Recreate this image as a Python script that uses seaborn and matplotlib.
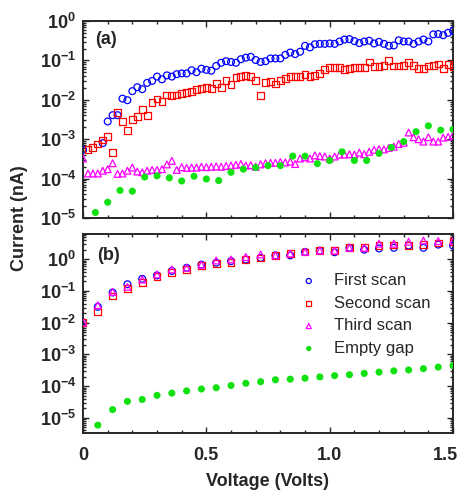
import numpy as np
import pandas as pd
import seaborn as sns
import matplotlib.pyplot as plt
from matplotlib.ticker import FixedLocator, LogLocator, MultipleLocator, NullFormatter
from matplotlib.transforms import ScaledTranslation

# --- data (log10 of current in nA) ---
# panel (a): dense sweep, 0.02 V steps
v_scan_a = np.round(np.arange(76) * 0.02, 2)
first_a = [-3.27, np.nan, np.nan, np.nan, -3.10, -2.55, -2.39, -2.39, -1.97, -2.01,
           -1.78, -1.68, -1.73, -1.57, -1.52, -1.41, -1.48, -1.38, -1.41, -1.35,
           -1.33, -1.33, -1.25, -1.30, -1.21, -1.24, -1.26, -1.14, -1.06, -1.02,
           -1.04, -1.06, -0.97, -0.93, -0.91, -0.99, -1.04, -1.02, -0.95, -0.95,
           -0.95, -0.86, -0.80, -0.84, -0.78, -0.63, -0.67, -0.59, -0.58, -0.58,
           -0.57, -0.58, -0.52, -0.47, -0.46, -0.51, -0.56, -0.52, -0.50, -0.57,
           -0.53, -0.58, -0.63, -0.62, -0.49, -0.52, -0.52, -0.58, -0.52, -0.47,
           -0.52, -0.34, -0.33, -0.36, -0.30, -0.25]
second_a = [np.nan, -3.27, -3.21, -3.12, -3.02, -2.94, -3.33, -2.33, -2.55, -2.77,
            -2.50, -2.43, -2.24, -2.40, -2.06, -1.98, -2.05, -1.88, -1.90, -1.88,
            -1.85, -1.81, -1.79, -1.74, -1.72, -1.68, -1.72, -1.58, -1.68, -1.52,
            -1.61, -1.44, -1.41, -1.38, -1.41, -1.50, -1.90, -1.56, -1.54, -1.60,
            -1.51, -1.46, -1.40, -1.40, -1.40, -1.35, -1.41, -1.38, -1.34, -1.23,
            -1.18, -1.18, -1.18, -1.24, -1.21, -1.18, -1.19, -1.19, -1.04, -1.16,
            -1.16, -1.12, -1.00, -1.14, -1.14, -1.12, -1.05, -1.13, -1.20, -1.20,
            -1.14, -1.13, -1.09, -1.21, -1.11, -1.15]
third_a = [-3.49, -3.87, -3.87, -3.87, -3.80, -3.76, -3.61, -3.88, -3.87, -3.80,
           -3.72, -3.82, -3.84, -3.80, -3.78, -3.78, -3.76, -3.64, -3.55, -3.78,
           -3.71, -3.73, -3.72, -3.72, -3.70, -3.71, -3.70, -3.69, -3.70, -3.68,
           -3.67, -3.65, -3.63, -3.67, -3.66, -3.70, -3.64, -3.61, -3.60, -3.60,
           -3.58, -3.59, -3.57, -3.63, -3.49, -3.46, -3.49, -3.41, -3.43, -3.44,
           -3.49, -3.44, -3.39, -3.39, -3.38, -3.39, -3.34, -3.38, -3.32, -3.27,
           -3.25, -3.26, -3.22, -3.19, -3.12, -3.09, -2.83, -2.95, -3.00, -3.06,
           -2.95, -3.06, -3.06, -2.96, -2.94, -2.90]
# empty gap, 0.05 V steps
v_gap_a = np.round(np.arange(1, 31) * 0.05, 2)
gap_a = [-4.86, -4.60, -4.30, -4.32, -3.96, -3.93, -3.98, -4.06, -3.94, -4.01,
         -4.05, -3.84, -3.76, -3.72, -3.67, -3.67, -3.43, -3.43, -3.62, -3.54,
         -3.32, -3.54, -3.54, -3.36, -3.21, -3.06, -2.81, -2.66, -2.77, -2.75]

# panel (b): 0.06 V steps
v_scan_b = np.round(np.arange(26) * 0.06, 2)
first_b = [-1.99, -1.50, -1.05, -0.79, -0.62, -0.51, -0.37, -0.27, -0.17, -0.11,
           -0.06, -0.01, 0.04, 0.12, 0.12, 0.23, 0.27, 0.22, 0.36, 0.30,
           0.34, 0.36, 0.43, 0.36, 0.46, 0.43]
second_b = [-1.99, -1.66, -1.16, -0.93, -0.74, -0.55, -0.43, -0.32, -0.19, -0.13,
            -0.11, -0.01, 0.04, 0.12, 0.18, 0.23, 0.27, 0.27, 0.36, 0.36,
            0.43, 0.45, 0.43, 0.46, 0.51, 0.55]
third_b = [-1.99, -1.45, -1.03, -0.87, -0.64, -0.48, -0.32, -0.27, -0.17, -0.04,
           -0.01, 0.07, 0.15, 0.12, 0.18, 0.23, 0.27, 0.27, 0.36, 0.36,
           0.49, 0.49, 0.55, 0.59, 0.57, 0.57]
v_gap_b = np.round(np.arange(1, 26) * 0.06, 2)
gap_b = [-5.23, -4.74, -4.48, -4.42, -4.29, -4.22, -4.15, -4.09, -4.05, -3.98,
         -3.91, -3.86, -3.80, -3.78, -3.75, -3.71, -3.67, -3.64, -3.60, -3.56,
         -3.52, -3.49, -3.45, -3.40, -3.35]

labels = ["First scan", "Second scan", "Third scan", "Empty gap"]
colors = ["#0000ff", "#ff0000", "#ff00ff", "#11e011"]
y_exponents = [0, -1, -2, -3, -4, -5]
x_ticks = [0, 0.5, 1.0, 1.5]
x_tick_labels = ["0", "0.5", "1.0", "1.5"]

sns.set_style("ticks")
plt.rcParams["font.family"] = ["Liberation Sans", "DejaVu Sans"]
plt.rcParams["mathtext.fontset"] = "custom"
plt.rcParams["mathtext.rm"] = "Liberation Sans:bold"
plt.rcParams["mathtext.bf"] = "Liberation Sans:bold"
plt.rcParams["mathtext.it"] = "Liberation Sans:bold"


def draw_panel(ax, v_scan, scans, v_gap, gap):
    markers = ["o", "s", "^"]
    for vals, lab, col, mk in zip(scans, labels[:3], colors[:3], markers):
        d = pd.DataFrame({"V": v_scan, "I": 10 ** np.array(vals)}).dropna()
        sns.scatterplot(data=d, x="V", y="I", ax=ax, marker=mk, s=24,
                        color=col, facecolor="none", edgecolor=col,
                        linewidth=0.9, label=lab, zorder=3)
    d = pd.DataFrame({"V": v_gap, "I": 10 ** np.array(gap)})
    sns.scatterplot(data=d, x="V", y="I", ax=ax, marker="o", s=26,
                    color=colors[3], edgecolor="none", label=labels[3], zorder=4)

    ax.set_yscale("log")
    ax.set_xlim(0, 1.5)
    ax.xaxis.set_major_locator(FixedLocator(x_ticks))
    ax.xaxis.set_minor_locator(MultipleLocator(0.1))
    ax.yaxis.set_major_locator(FixedLocator([10.0 ** e for e in y_exponents]))
    ax.set_yticklabels([r"$\mathbf{10^{%d}}$" % e for e in y_exponents])
    ax.yaxis.set_minor_locator(LogLocator(base=10, subs=np.arange(2, 10), numticks=20))
    ax.yaxis.set_minor_formatter(NullFormatter())
    ax.tick_params(which="both", direction="in", top=True, right=True, width=1)
    ax.tick_params(which="major", length=4.5)
    ax.tick_params(which="minor", length=2.2)
    ax.tick_params(axis="y", labelsize=13, pad=5)
    ax.tick_params(axis="x", labelsize=13, pad=10)
    for sp in ax.spines.values():
        sp.set_linewidth(1.4)
    ax.set_xlabel("")
    ax.set_ylabel("")


fig = plt.figure(figsize=(4.62, 4.92), dpi=100)
ax_a = fig.add_axes([0.1797, 0.5569, 0.8009, 0.4004])
ax_b = fig.add_axes([0.1797, 0.1205, 0.8009, 0.4033])

draw_panel(ax_a, v_scan_a, [first_a, second_a, third_a], v_gap_a, gap_a)
draw_panel(ax_b, v_scan_b, [first_b, second_b, third_b], v_gap_b, gap_b)

ax_a.set_ylim(1e-5, 1e0)
ax_a.set_xticklabels([])
ax_a.get_legend().remove()

ax_b.set_ylim(3.4e-6, 6.1)
ax_b.set_xticklabels(x_tick_labels, fontweight="bold")
# the last label sits a little left of its tick so it stays inside the figure
last = ax_b.get_xticklabels()[-1]
last.set_transform(last.get_transform() + ScaledTranslation(-0.08, 0, fig.dpi_scale_trans))

ax_a.text(0.032, 0.905, "(a)", transform=ax_a.transAxes, fontsize=13,
          fontweight="bold", va="center", ha="left")
ax_b.text(0.038, 0.895, "(b)", transform=ax_b.transAxes, fontsize=13,
          fontweight="bold", va="center", ha="left")

leg = ax_b.legend(loc="center left", bbox_to_anchor=(0.565, 0.595), frameon=False,
                  fontsize=12, markerscale=0.75, handlelength=1.0,
                  handletextpad=1.0, labelspacing=0.45, borderpad=0)

fig.text(20 / 462, 1 - 218 / 492, "Current (nA)", rotation=90, fontsize=13,
         fontweight="bold", ha="center", va="center")
fig.text(268 / 462, 1 - 482 / 492, "Voltage (Volts)", fontsize=13,
         fontweight="bold", ha="center", va="center")

fig.savefig("out.png", dpi=100)
